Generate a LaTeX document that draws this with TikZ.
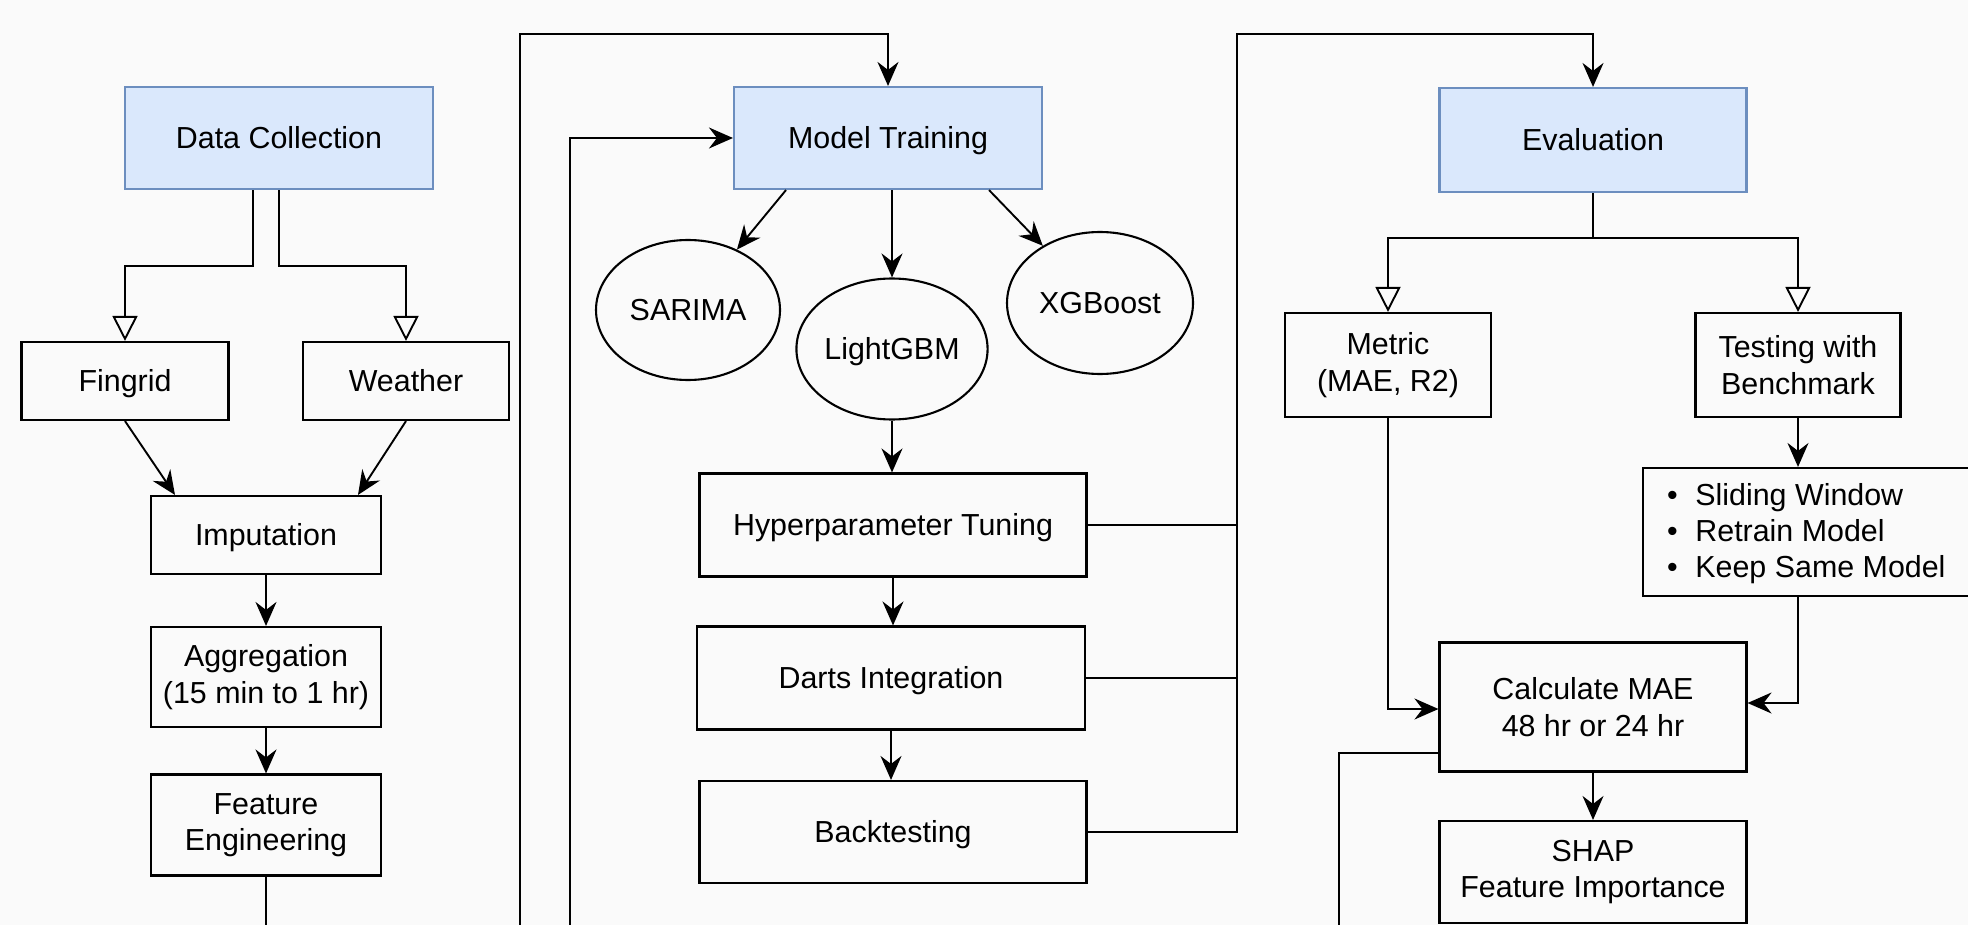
\documentclass[tikz,border=0pt]{standalone}
\usepackage{fontspec}
\setmainfont{Liberation Sans}
\usetikzlibrary{arrows.meta,calc,shapes.geometric}
\definecolor{bluefill}{HTML}{DAE8FC}
\definecolor{bluedraw}{HTML}{6C8EBF}
\definecolor{bgcol}{HTML}{FAFAFA}
\begin{document}
\begin{tikzpicture}[x=0.5pt,y=-0.5pt,
  font=\fontsize{15.2}{18.3}\selectfont,
  box/.style={draw=black,line width=1.05pt,rectangle,align=center,inner sep=0pt},
  phase/.style={box,draw=bluedraw,fill=bluefill},
  oval/.style={draw=black,ellipse,line width=1.05pt,inner sep=0pt,align=center},
  oneline/.style={text height=10.9pt,text depth=0pt},
  conn/.style={line width=0.95pt},
  arr/.style={conn,-{Stealth[length=12pt,width=10.5pt,inset=4pt]}},
  oarr/.style={conn,-{Triangle[open,length=12.5pt,width=12.5pt]}},
  btext/.style={anchor=base west,inner sep=0pt}
]
\useasboundingbox (0,0) rectangle (1968,925);
\fill[bgcol] (0,0) rectangle (1968,925);
\clip (0,0) rectangle (1968,925);

% phase boxes
\node[phase,oneline,minimum width=154pt,minimum height=51pt] (dc) at (279,138) {Data Collection};
\node[phase,oneline,minimum width=154pt,minimum height=51pt] (mt) at (888,138) {Model Training};
\node[phase,oneline,minimum width=153.5pt,minimum height=52pt] (ev) at (1593,140) {Evaluation};

% left column
\node[box,oneline,minimum width=103.5pt,minimum height=39pt] (fingrid) at (125,381) {Fingrid};
\node[box,oneline,minimum width=103pt,minimum height=39pt] (weather) at (406,381) {Weather};
\node[box,oneline,minimum width=115pt,minimum height=39pt] (imp) at (266,535) {Imputation};
\node[box,minimum width=115pt,minimum height=50pt] (agg) at (266,677) {Aggregation\\(15 min to 1 hr)};
\node[box,minimum width=115pt,minimum height=50.5pt] (fe) at (266,825) {Feature\\Engineering};

% middle column
\node[oval,oneline,minimum width=92pt,minimum height=70pt] (sarima) at (688,310) {SARIMA};
\node[oval,oneline,minimum width=92pt,minimum height=70.5pt] (lgbm) at (892,349) {LightGBM};
\node[oval,oneline,minimum width=93pt,minimum height=71pt] (xgb) at (1100,303) {XGBoost};
\node[box,oneline,minimum width=193.5pt,minimum height=51.5pt] (ht) at (893,525) {Hyperparameter Tuning};
\node[box,oneline,minimum width=194pt,minimum height=51.5pt] (darts) at (891,678) {Darts Integration};
\node[box,oneline,minimum width=193.5pt,minimum height=51pt] (bt) at (893,832) {Backtesting};

% right column
\node[box,minimum width=103pt,minimum height=52pt] (metric) at (1388,365) {Metric\\(MAE, R2)};
\node[box,minimum width=102.5pt,minimum height=52pt] (testing) at (1798,365) {Testing with\\Benchmark};
\node[box,minimum width=175pt,minimum height=64pt] (bullets) at (1818,532) {};
\node[btext] (b1) at (1660,505) {\makebox[12pt][c]{•}\hspace{5.5pt}Sliding Window};
\node[btext] (b2) at (1660,541) {\makebox[12pt][c]{•}\hspace{5.5pt}Retrain Model};
\node[btext] (b3) at (1660,577) {\makebox[12pt][c]{•}\hspace{5.5pt}Keep Same Model};
\node[box,minimum width=153.5pt,minimum height=64.5pt] (calc) at (1593,707) {Calculate MAE\\48 hr or 24 hr};
\node[box,minimum width=153.5pt,minimum height=51pt] (shap) at (1593,872) {SHAP\\Feature Importance};

% helper coordinates
\coordinate (lvlA) at (0,266);
\coordinate (lvlB) at (0,238);
\coordinate (bot) at (0,940);
\coordinate (dcL) at ($(dc.south)+(-26,0)$);
\coordinate (oTop) at (520,34);
\coordinate (oBot) at (520,940);
\coordinate (iBot) at (570,940);
\coordinate (rTop) at (1237,34);
\coordinate (cBot) at (1339,940);

% data collection branch
\draw[oarr] (dcL) -- (dcL |- lvlA) -| (fingrid.north);
\draw[oarr] (dc.south) -- (dc.south |- lvlA) -| (weather.north);
\draw[arr] (fingrid.south) -- ($(imp.north)+(-91,0)$);
\draw[arr] (weather.south) -- ($(imp.north)+(92,0)$);
\draw[arr] (imp) -- (agg);
\draw[arr] (agg) -- (fe);
\draw[conn] (fe.south) -- (fe.south |- bot);

% loops into model training
\draw[arr] (oBot) -- (oTop) -| (mt.north);
\draw[arr] (iBot) |- (mt.west);

% model training branch
\draw[arr] ($(mt.south)+(-102,0)$) -- (sarima.51);
\draw[arr] (mt.south -| lgbm.north) -- (lgbm.north);
\draw[arr] ($(mt.south)+(101,0)$) -- (xgb.135);
\draw[arr] (lgbm.south) -- (lgbm.south |- ht.north);
\draw[arr] (ht.south) -- (ht.south |- darts.north);
\draw[arr] (darts.south) -- (darts.south |- bt.north);
\draw[conn] (ht.east) -- (ht.east -| rTop);
\draw[conn] (darts.east) -- (darts.east -| rTop);
\draw[arr] (bt.east) -| (rTop) -| (ev.north);

% evaluation branch
\draw[oarr] (ev.south) -- (ev.south |- lvlB) -| (metric.north);
\draw[oarr] (ev.south |- lvlB) -| (testing.north);
\draw[arr] (testing.south) -- (testing.south |- bullets.north);
\draw[arr] (metric.south) |- ($(calc.west)+(0,2)$);
\draw[arr] (testing.south |- bullets.south) |- ($(calc.east)+(0,-4)$);
\draw[conn] ($(calc.west)+(0,46)$) -| (cBot);
\draw[arr] (calc) -- (shap);
\end{tikzpicture}
\end{document}
